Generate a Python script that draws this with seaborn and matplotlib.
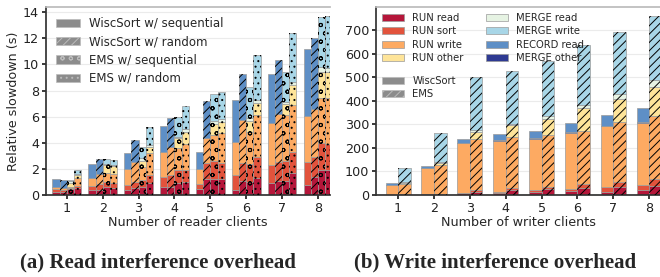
import numpy as np
import matplotlib
matplotlib.use("Agg")
import matplotlib.pyplot as plt
import matplotlib.patches as mpatches
import seaborn as sns

# ---- data -------------------------------------------------------------
clients = [1, 2, 3, 4, 5, 6, 7, 8]

# (a) read interference, relative slowdown (s)
# WiscSort rows: RUN read, RUN sort, RUN write, RECORD read
a_wisc_seq = [
    [0.25, 0.35, 0.38, 0.60, 0.45, 0.38, 0.89, 0.80],
    [0.20, 0.35, 0.40, 0.80, 0.37, 1.15, 1.40, 1.70],
    [0.15, 0.60, 1.20, 1.87, 1.14, 2.55, 3.23, 3.55],
    [0.60, 1.10, 1.27, 2.02, 1.33, 3.19, 3.72, 5.10],
]
a_wisc_rand = [
    [0.20, 0.40, 0.50, 0.65, 1.20, 1.05, 1.10, 1.40],
    [0.15, 0.45, 0.50, 0.85, 1.22, 1.40, 1.40, 1.50],
    [0.15, 0.75, 1.55, 2.15, 1.92, 3.30, 3.70, 3.70],
    [0.65, 1.15, 1.65, 2.23, 2.85, 3.55, 4.15, 5.40],
]
# EMS rows: RUN read, RUN sort, RUN write, RUN other, MERGE read, MERGE write
a_ems_seq = [
    [0.45, 0.60, 0.64, 0.95, 1.20, 1.00, 1.10, 1.90],
    [0.10, 0.40, 0.50, 0.95, 1.40, 1.40, 1.50, 2.05],
    [0.10, 0.65, 1.00, 1.68, 2.00, 2.45, 3.50, 3.45],
    [0.30, 0.65, 0.50, 0.77, 0.85, 0.85, 0.85, 2.05],
    [0.10, 0.10, 0.16, 0.12, 0.25, 0.20, 0.20, 0.35],
    [0.07, 0.33, 0.85, 1.48, 2.05, 2.40, 2.30, 3.85],
]
a_ems_rand = [
    [0.50, 0.55, 0.90, 1.00, 1.25, 1.30, 1.70, 1.90],
    [0.20, 0.40, 0.63, 0.90, 1.20, 1.60, 1.60, 2.00],
    [0.60, 0.65, 1.70, 2.04, 2.30, 3.20, 3.60, 3.50],
    [0.25, 0.60, 0.47, 0.90, 0.85, 0.95, 1.50, 2.00],
    [0.05, 0.10, 0.13, 0.18, 0.20, 0.20, 0.25, 0.30],
    [0.30, 0.35, 1.40, 1.80, 2.10, 3.45, 3.75, 4.00],
]

# (b) write interference, seconds
# WiscSort rows: RUN read, RUN sort, RUN write, MERGE other, RECORD read
b_wisc = [
    [1, 4, 7, 10, 12, 15, 14, 20],
    [1, 1, 3, 4, 10, 12, 18, 22],
    [40, 108, 210, 216, 217, 237, 260, 266],
    [0, 0, 0, 2, 2, 2, 3, 3],
    [10, 12, 20, 26, 33, 39, 47, 58],
]
# EMS rows: RUN read, RUN sort, RUN write, RUN other, MERGE read, MERGE write
b_ems = [
    [2, 4, 14, 22, 25, 30, 35, 40],
    [1, 2, 6, 8, 10, 15, 20, 28],
    [45, 122, 217, 217, 221, 229, 255, 269],
    [5, 10, 33, 50, 66, 95, 98, 122],
    [4, 4, 8, 7, 13, 14, 20, 31],
    [56, 121, 222, 224, 236, 256, 265, 273],
]

colors = {
    "RUN read": "#b5163a",
    "RUN sort": "#e2533c",
    "RUN write": "#fdaa62",
    "RUN other": "#fee499",
    "MERGE read": "#e6f3e3",
    "MERGE write": "#a8d6e7",
    "RECORD read": "#5e8fc6",
    "MERGE other": "#2e3a92",
}
wisc_parts_a = ["RUN read", "RUN sort", "RUN write", "RECORD read"]
wisc_parts_b = ["RUN read", "RUN sort", "RUN write", "MERGE other", "RECORD read"]
ems_parts = ["RUN read", "RUN sort", "RUN write", "RUN other", "MERGE read", "MERGE write"]

# ---- style ------------------------------------------------------------
sns.set_theme(style="whitegrid", rc={
    "grid.color": "#ebebeb", "grid.linewidth": 0.8,
    "xtick.bottom": True, "ytick.left": True,
    "xtick.major.size": 3, "ytick.major.size": 3,
    "xtick.color": "#222", "ytick.color": "#222",
    "axes.edgecolor": "#333", "hatch.linewidth": 0.7,
    "hatch.color": "black",
})
plt.rcParams["font.family"] = ["DejaVu Sans"]

fig = plt.figure(figsize=(6.6, 2.77), dpi=100)
ax1 = fig.add_axes([0.0697, 0.296, 0.430, 0.679])
ax2 = fig.add_axes([0.570, 0.296, 0.430, 0.679])

x = np.array(clients, dtype=float)


def stack(ax, xpos, width, rows, parts, hatch):
    bottom = np.zeros(len(xpos))
    for vals, name in zip(rows, parts):
        vals = np.array(vals, dtype=float)
        ax.bar(xpos, vals, width, bottom=bottom, color=colors[name],
               edgecolor="#9a9a9a", linewidth=0.5, zorder=2)
        if hatch:
            ax.bar(xpos, vals, width, bottom=bottom, fill=False,
                   edgecolor="black", linewidth=0, hatch=hatch, zorder=3)
        bottom += vals


# (a)
w = 0.2
seq_hatch, rand_hatch = "oo", "..."
stack(ax1, x - 0.3, w, a_wisc_seq, wisc_parts_a, None)
stack(ax1, x - 0.1, w, a_wisc_rand, wisc_parts_a, "////")
stack(ax1, x + 0.1, w, a_ems_seq, ems_parts, seq_hatch)
stack(ax1, x + 0.3, w, a_ems_rand, ems_parts, rand_hatch)
ax1.set_xlim(0.42, 8.33)
ax1.set_ylim(0, 14.4)
ax1.set_yticks([0, 2, 4, 6, 8, 10, 12, 14])
ax1.set_xticks(clients)
ax1.set_xlabel("Number of reader clients", fontsize=9.2, labelpad=1)
ax1.set_ylabel("Relative slowdown (s)", fontsize=9.2, labelpad=2)

gray = "#8c8c8c"
h_a = [mpatches.Patch(facecolor=gray, edgecolor="#bbbbbb", lw=0.5, hatch=h, label=l)
       for h, l in [(None, "WiscSort w/ sequential"), ("////", "WiscSort w/ random"),
                    (seq_hatch, "EMS w/ sequential"), (rand_hatch, "EMS w/ random")]]
ax1.legend(handles=h_a, loc="upper left", fontsize=8.5, frameon=False,
           handlelength=2.0, labelspacing=0.45, borderaxespad=0.45,
           handletextpad=0.8)

# (b)
wb = 0.35
stack(ax2, x - wb / 2, wb, b_wisc, wisc_parts_b, None)
stack(ax2, x + wb / 2, wb, b_ems, ems_parts, "////")
ax2.set_xlim(0.39, 8.3)
ax2.set_ylim(0, 800)
ax2.set_yticks([0, 100, 200, 300, 400, 500, 600, 700])
ax2.set_xticks(clients)
ax2.set_xlabel("Number of writer clients", fontsize=9.2, labelpad=1)

order = ["RUN read", "RUN sort", "RUN write", "RUN other",
         "MERGE read", "MERGE write", "RECORD read", "MERGE other"]
h_b = [mpatches.Patch(facecolor=colors[n], edgecolor="#9a9a9a", lw=0.5, label=n) for n in order]
leg = ax2.legend(handles=h_b, loc="upper left", ncol=2, fontsize=7.2, frameon=False,
                 handlelength=2.2, labelspacing=0.35, columnspacing=2.2,
                 borderaxespad=0.2)
ax2.add_artist(leg)
h_s = [mpatches.Patch(facecolor=gray, edgecolor="#bbbbbb", lw=0.5, label="WiscSort"),
       mpatches.Patch(facecolor=gray, edgecolor="#bbbbbb", lw=0.5, hatch="////", label="EMS")]
ax2.legend(handles=h_s, loc="upper left", bbox_to_anchor=(0.0, 0.665), fontsize=7.2,
           frameon=False, handlelength=2.2, labelspacing=0.35, borderaxespad=0.2)

for ax in (ax1, ax2):
    ax.grid(axis="x", visible=False)
    ax.tick_params(labelsize=9.2, pad=2)
    ax.spines["top"].set_color("#bbbbbb")
    ax.spines["right"].set_visible(False)
    ax.set_axisbelow(True)

cap = dict(fontsize=15, fontweight="bold", family="Liberation Serif", ha="center", va="center")
fig.text(0.240, 0.054, "(a) Read interference overhead", **cap)
fig.text(0.750, 0.054, "(b) Write interference overhead", **cap)

fig.savefig("out.png", dpi=100)
